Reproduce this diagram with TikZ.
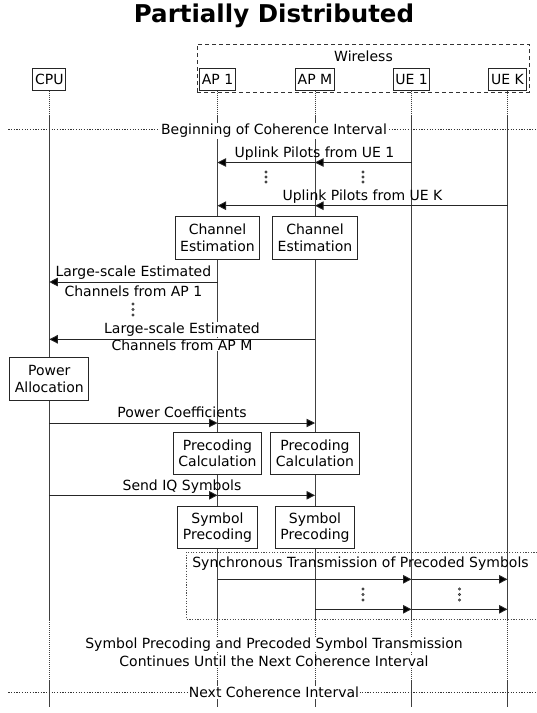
\documentclass[tikz,border=0pt]{standalone}
\usepackage{fontspec}
\setmainfont{DejaVu Sans}
\usetikzlibrary{arrows.meta}
\begin{document}
\begin{tikzpicture}[x=1pt,y=-1pt,
  txt/.style={font=\fontsize{14}{16.5}\selectfont, inner sep=0pt},
  hdr/.style={draw=black!85,line width=1pt,fill=white,font=\fontsize{14}{16.5}\selectfont,inner xsep=2.2pt,inner ysep=0pt,minimum height=21.7pt},
  proc/.style={draw=black!85,line width=1pt,fill=white,font=\fontsize{14}{16.5}\selectfont,align=center,inner xsep=5pt,inner ysep=0pt,minimum height=42.5pt},
  life/.style={draw=black!75,line width=0.8pt},
  lifedot/.style={draw=black!75,line width=0.8pt,dash pattern=on 0.8pt off 1.2pt},
  hline/.style={draw=black!80,line width=0.8pt,dash pattern=on 1.2pt off 1.5pt},
  msg/.style={draw=black!85,line width=0.9pt,-{Triangle[length=8.5pt,width=8.5pt,fill=black]}},
  dotc/.style={draw=black!80,line width=0.6pt,fill=white},
  lbl/.style={txt,anchor=base},
  wlbl/.style={txt,anchor=base,fill=white,inner xsep=1pt,inner ysep=1pt},
]
\useasboundingbox (0,0) rectangle (537,713);
% title
\node[anchor=base,inner sep=0pt,font=\fontsize{24.5}{29}\selectfont\bfseries] (title) at (274,22.5) {Partially Distributed};
% wireless frame
\node[draw=black!80,line width=0.9pt,dash pattern=on 4pt off 3pt,minimum width=332pt,minimum height=48pt,inner sep=0pt] (wl) at (363,68) {};
\node[lbl] (wltext) at (363.5,61.5) {Wireless};
% headers
\node[hdr] (CPU) at (49.3,79.2) {CPU};
\node[hdr] (AP1) at (217.5,79.2) {AP 1};
\node[hdr] (APM) at (315,79.2) {AP M};
\node[hdr] (UE1) at (411.5,79.2) {UE 1};
\node[hdr] (UEK) at (507.5,79.2) {UE K};
% row coordinates
\coordinate (yA) at (0,115);
\coordinate (yB) at (620,620);
\coordinate (yC) at (0,680);
\coordinate (yD) at (0,707);
% lifelines
\foreach \n in {CPU,AP1,APM,UE1,UEK}{
  \draw[lifedot] (\n.south) -- (\n |- yA);
  \draw[life] (\n |- yA) -- (\n |- yB);
  \draw[lifedot] (\n |- yB) -- (\n |- yC);
  \draw[life] (\n |- yC) -- (\n |- yD);
}
% beginning of coherence interval
\coordinate (h1a) at (8.3,129.5);
\coordinate (h1b) at (537,129.5);
\draw[hline] (h1a) -- (h1b);
\node[wlbl] (beg) at (274,134.6) {Beginning of Coherence Interval};
% uplink pilots
\coordinate (m1) at (0,162.5);
\draw[msg] (UE1 |- m1) -- (APM |- m1);
\draw[msg] (APM |- m1) -- (AP1 |- m1);
\node[lbl] (l1) at (314.5,157) {Uplink Pilots from UE 1};
\foreach \y in {172,177,182}{
  \draw[dotc] (266,\y) circle (1.1pt);
  \draw[dotc] (363,\y) circle (1.1pt);
}
\coordinate (m2) at (0,205.7);
\draw[msg] (UEK |- m2) -- (APM |- m2);
\draw[msg] (APM |- m2) -- (AP1 |- m2);
\node[lbl] (l2) at (362.5,200.5) {Uplink Pilots from UE K};
% channel estimation
\node[proc] (ce1) at (217.5,238) {Channel\\Estimation};
\node[proc] (ce2) at (315,238) {Channel\\Estimation};
% large-scale estimates
\coordinate (m3) at (0,282);
\draw[msg] (AP1 |- m3) -- (CPU |- m3);
\node[lbl] (l3a) at (133.4,276.5) {Large-scale Estimated};
\node[lbl] (l3b) at (133.4,296) {Channels from AP 1};
\foreach \y in {304,309.5,315}{
  \draw[dotc] (133,\y) circle (1.1pt);
}
\node[wlbl] (l4a) at (182,333.5) {Large-scale Estimated};
\node[wlbl] (l4b) at (182,350) {Channels from AP M};
\coordinate (m4) at (0,339.3);
\draw[msg] (APM |- m4) -- (CPU |- m4);
% power allocation
\node[proc] (pa) at (49.3,379) {Power\\Allocation};
\coordinate (m5) at (0,423);
\draw[msg] (CPU |- m5) -- (AP1 |- m5);
\draw[msg] (AP1 |- m5) -- (APM |- m5);
\node[lbl] (l5) at (182,417.5) {Power Coefficients};
% precoding calculation
\node[proc] (pc1) at (217.5,453.3) {Precoding\\Calculation};
\node[proc] (pc2) at (315,453.3) {Precoding\\Calculation};
% send IQ
\coordinate (m6) at (0,495.3);
\draw[msg] (CPU |- m6) -- (AP1 |- m6);
\draw[msg] (AP1 |- m6) -- (APM |- m6);
\node[lbl] (l6) at (182,490) {Send IQ Symbols};
% symbol precoding
\node[proc] (sp1) at (217.5,527.7) {Symbol\\Precoding};
\node[proc] (sp2) at (315,527.7) {Symbol\\Precoding};
% synchronous transmission
\coordinate (s1) at (540,552);
\coordinate (s2) at (186.2,552);
\coordinate (s3) at (186.2,619);
\coordinate (s4) at (540,619);
\draw[hline,draw=black!70] (s1) -- (s2) -- (s3) -- (s4);
\node[lbl] (l7) at (360.5,567) {Synchronous Transmission of Precoded Symbols};
\coordinate (m7) at (0,579.3);
\draw[msg] (AP1 |- m7) -- (UE1 |- m7);
\draw[msg] (UE1 |- m7) -- (UEK |- m7);
\coordinate (m8) at (0,609.3);
\draw[msg] (APM |- m8) -- (UE1 |- m8);
\draw[msg] (UE1 |- m8) -- (UEK |- m8);
\foreach \y in {589,594.5,600}{
  \draw[dotc] (363,\y) circle (1.1pt);
  \draw[dotc] (459.5,\y) circle (1.1pt);
}
% continuation text
\node[wlbl] (c1) at (274,648.4) {Symbol Precoding and Precoded Symbol Transmission};
\node[wlbl] (c2) at (274,666.3) {Continues Until the Next Coherence Interval};
% next coherence interval
\coordinate (h2a) at (8.3,692.3);
\coordinate (h2b) at (537,692.3);
\draw[hline] (h2a) -- (h2b);
\node[wlbl] (nxt) at (274,697.4) {Next Coherence Interval};
\end{tikzpicture}
\end{document}
